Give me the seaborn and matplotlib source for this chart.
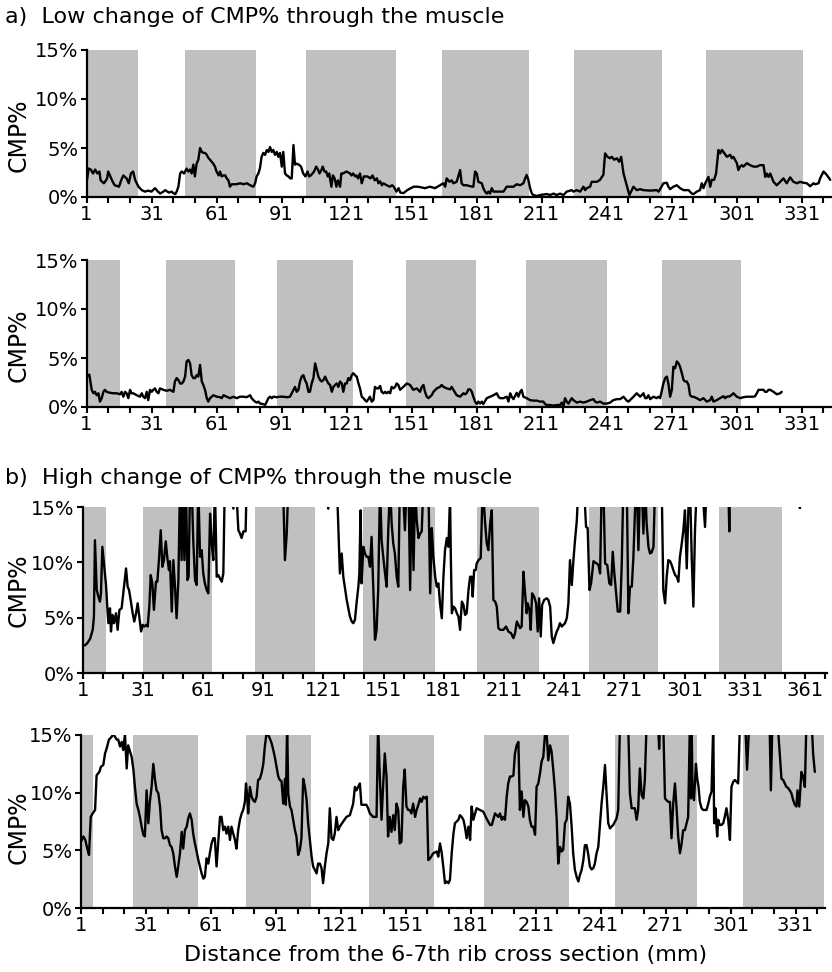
import matplotlib
matplotlib.use("Agg")
import matplotlib.pyplot as plt
import seaborn as sns
import pandas as pd
from matplotlib.ticker import FixedLocator, FuncFormatter

# ---------------- data (x = slice index, y = CMP %) ----------------
low1 = [(1,1.4),(2,2.9),(3,2.8),(4,2.4),(5,2.8),(6,2.4),(7,2.6),(7.5,1.7),(8,1.6),(9,1.4),(10,1.7),(10.5,1.9),(11,2.6),(12,2.1),(13,1.6),(14,1.2),(16,1.05),(17,1.7),(18,2.2),(19.5,1.9),(20.5,1.4),(21.5,2.4),(22.5,2.6),(23.5,1.7),(25,1.05),(26.5,0.7),(28,0.55),(29.5,0.65),(31,0.55),(32.6,0.9),(34,0.55),(35,0.35),(36.5,0.55),(37.3,0.7),(39,0.45),(40.3,0.55),(41,0.4),(42,0.3),(42.6,0.55),(43.4,1.05),(44.2,2.4),(45,2.6),(46,2.4),(47.2,2.9),(48,2.6),(48.8,2.8),(49.5,2.4),(50.3,3.3),(51,2.1),(51.8,3.4),(52.6,3.8),(53.4,5.0),(54.2,4.6),(55,4.5),(55.7,4.5),(56.5,4.3),(57.2,4.0),(58,3.8),(59.5,3.4),(60.3,3.1),(61,2.6),(62,2.2),(62.6,2.6),(63.4,2.1),(64.2,2.2),(65,2.2),(65.7,1.9),(66.5,1.7),(67.2,1.05),(68,1.3),(70,1.3),(72,1.4),(73.4,1.3),(75,1.4),(76.5,1.2),(78,1.05),(78.8,1.4),(79.5,2.1),(80.3,2.4),(81,2.9),(81.8,4.1),(82.6,4.5),(83.4,4.3),(84.2,4.8),(85,4.6),(85.7,5.1),(86.5,4.6),(87.2,4.8),(88,4.3),(88.8,4.6),(89.5,4.1),(90.3,4.5),(91.1,3.1),(91.8,4.6),(92.6,2.4),(93.4,2.2),(94.2,2.1),(95,1.9),(95.7,1.9),(96.5,5.3),(97.2,3.3),(98,3.4),(99,3.3),(100,3.1),(101,2.4),(102,2.1),(103,2.6),(103.7,2.1),(104.5,2.2),(105.3,2.4),(106,2.6),(107,3.1),(107.8,2.8),(108.5,2.4),(109.5,2.8),(110,3.1),(110.8,2.6),(111.6,2.6),(112.3,2.1),(113,2.4),(114,1.05),(114.7,2.2),(115.5,1.9),(116.3,1.05),(117,1.7),(118,1.05),(118.6,2.4),(119.3,2.4),(121,2.6),(122.6,2.4),(123.3,2.2),(124,2.4),(125,2.1),(125.6,2.2),(126.3,1.9),(127.2,2.4),(128,1.4),(129,2.1),(130.6,2.1),(132,1.9),(133,2.2),(134,1.7),(135,1.9),(135.7,1.4),(136.5,1.6),(137.3,1.2),(138,1.4),(139.5,1.2),(141,1.05),(142,1.2),(142.8,1.05),(144,0.55),(145,0.9),(145.8,0.45),(147.3,0.4),(149,0.7),(150.6,0.9),(152,1.05),(154,1.05),
        (157.2,0.9),(159.5,1.05),(161.8,0.9),(164.1,1.2),(165.7,1.4),(166.5,1.05),(167.2,1.9),(168.5,1.55),(169.5,1.7),(170.3,1.4),(171.8,1.55),(173.4,2.75),(174.1,1.4),(174.9,1.2),(176.5,1.2),(178,1.1),(179.5,1.05),(180.3,2.6),(181.1,2.4),(181.8,1.55),(183.4,1.4),(184.1,0.9),(184.9,0.55),(185.7,0.35),(186.5,0.55),(187.2,0.35),(188,0.9),(188.8,0.55),(190.3,0.55),(193.4,0.55),(194.9,1.05),(198,1.05),(199.5,1.3),(201.1,1.2),(202.6,1.4),(203.4,1.9),(204.1,2.25),(204.9,1.75),(205.7,0.9),(206.5,0.35),(207.2,0.2),(208.8,0.1),(210.3,0.2),(213.4,0.3),(214.9,0.2),(216.5,0.35),(218,0.2),(219.5,0.35),(221.1,0.2),(222.6,0.55),(224.9,0.7),(225.7,0.55),(227.2,0.7),(228.8,0.55),(230.3,1.05),(231.1,0.7),(231.8,0.9),(233.4,1.05),(234.1,1.55),(236.5,1.55),(238,1.75),(238.8,2.05),(239.5,2.25),(240.3,4.45),(241.4,4.1),(242.6,3.95),(243.4,4.1),(244.5,3.8),(245.7,3.95),(246.8,3.6),(247.7,4.1),(248.8,2.4),(250.3,1.2),(251.5,0.2),(252.6,0.7),(253.4,1.05),(254.9,0.7),(256.5,0.8),(258,0.7),(261.1,0.65),(264.1,0.7),(264.9,0.55),(265.7,0.8),(267.2,1.4),(268.8,1.45),(269.5,1.05),(270.3,0.8),(271.8,1.05),(273.4,1.2),(274.9,0.9),(276.5,0.7),(278.8,0.7),(280.3,0.35),(281.1,0.3),(282.6,0.55),(284.1,0.7),(284.9,1.4),(285.7,0.9),(286.5,1.4),(288,2.05),(288.8,1.05),(289.5,1.75),(290.6,1.75),(291.5,2.4),(292.6,4.8),(293.4,4.45),(294.2,4.8),(294.9,4.6),(296.5,4.1),(298,4.3),(298.8,3.95),(299.5,4.1),(301.1,3.45),(301.8,2.75),(302.6,3.1),(303.4,3.25),(304.1,3.1),(305.7,3.45),(307.2,3.25),(308.8,3.1),(310.3,3.1),(311.8,3.25),(313.4,3.25),(314.2,2.05),(314.9,2.4),(315.7,2.05),(316.5,2.4),(318,1.55),(319.5,1.2),(321.1,1.55),(322.6,1.9),(324.1,1.4),(325.7,2.0),(327.2,1.55),(328.8,1.4),(330.3,1.55),(331.8,1.45),(333.4,1.4),(334.9,1.1),(336.5,1.4),(337.2,1.3),(338.8,1.4),(339.5,1.9),(341.1,2.6),(342.6,2.25),(344.2,1.75)]

low2 = [(1,3.3),(1.8,3.2),(2.3,3.3),(3.4,1.75),(4.2,1.4),(4.9,1.55),(5.7,1.2),(6.5,1.4),(7.2,0.55),(8,0.9),(8.8,1.55),(9.5,1.75),(10.3,1.55),(11.8,1.45),(13.4,1.4),(14.9,1.4),(16.5,1.3),(17.2,1.55),(18,1.05),(18.8,1.55),(19.5,1.4),(20.3,0.9),(21.1,1.75),(21.8,1.4),(22.6,1.4),(24.2,1.2),(25.7,1.05),(26.5,1.4),(27.2,1.05),(28,0.9),(28.8,1.55),(29.5,0.7),(30.3,1.75),(31.1,1.55),(31.8,1.75),(32.6,1.9),(33.4,1.55),(34.2,1.4),(34.9,1.9),(36.5,1.75),(38,1.65),(39.5,1.75),(41.1,1.55),(41.8,2.6),(42.6,2.95),(43.4,2.75),(44.2,2.4),(45,2.4),(45.7,2.6),(46.5,3.1),(47.2,4.65),(48,4.8),(48.8,4.45),(49.5,3.25),(50.3,2.95),(51.1,2.95),(51.8,3.25),(52.6,3.1),(53.4,4.3),(54.2,2.6),(54.9,2.25),(55.7,1.75),(56.5,0.9),(57.2,0.55),(58,0.9),(59.5,1.2),(61.1,1.05),(62.6,1.0),(63.4,0.9),(64.2,1.2),(65.7,1.05),(67.2,0.9),(68.8,1.05),(70.3,0.9),(71.8,1.05),(73.4,1.05),(74.9,1.0),(76.5,1.2),(77.2,0.9),(78,0.7),(78.8,0.55),(79.5,0.45),(80.3,0.55),(81.1,0.35),(82.6,0.3),(83.4,0.2),(84.2,0.55),(84.9,0.9),(85.7,1.05),(86.5,0.9),(87.2,1.05),(88.8,1.0),(90.3,1.05),(91.8,1.05),(93.4,1.0),(94.9,1.05),(96.5,1.75),(97.2,2.05),(98,1.55),(98.8,1.75),(99.5,2.6),(100.3,3.1),(101.1,3.25),(101.8,2.75),(102.6,2.4),(103.4,1.55),(104.1,1.55),(104.9,2.4),(105.7,2.95),(106.5,4.45),(107.2,3.8),(108,3.1),(108.8,2.75),(109.5,2.6),(110.3,2.75),(111.1,3.1),(111.8,2.75),(112.6,2.4),(113.4,2.25),(114.2,1.55),(114.9,2.05),(115.7,2.25),(116.5,2.4),(117.2,2.05),(118,2.6),(118.8,2.4),(119.5,1.55),(120.3,2.4),(121.1,2.4),(121.8,2.95),(122.6,2.75),(123.4,3.25),(124.1,3.45),(124.9,3.25),(125.7,3.1),(126.5,2.4),(127.2,1.9),(128,1.05),(128.8,0.9),(129.5,0.7),(130.3,0.55),(131.8,1.05),(132.6,0.55),(133.4,0.7),(134.1,2.05),(134.9,1.9),(135.7,1.9),(136.5,2.15),(137.2,1.55),(138,1.4),(138.8,1.55),(139.5,1.4),(140.3,1.55),(141.1,1.4),(141.8,2.05),(142.6,1.9),(143.4,2.05),(144.1,2.4),(144.9,2.25),(145.7,1.75),(147.2,2.05),(148.8,2.4),(150.3,2.25),(151.8,1.75),(153.4,1.9),(154.9,1.55),
        (155.7,2.05),(156.5,2.25),(157.2,1.55),(158,1.05),(158.8,0.9),(159.5,1.05),(160.3,1.2),(161.1,1.55),(162.6,1.9),(164.1,2.05),(164.9,2.25),(165.7,2.05),(167.2,1.9),(168.8,1.8),(169.5,2.05),(170.3,1.75),(171.8,1.2),(173.4,1.05),(174.9,1.4),(175.7,1.3),(176.5,1.45),(177.2,1.8),(178,1.8),(178.8,1.55),(179.5,1.05),(180.3,0.55),(181.1,0.3),(181.8,0.55),(182.6,0.35),(183.4,0.55),(184.1,0.3),(185.7,0.9),(187.2,1.05),(188.8,1.2),(190.3,1.4),(191.1,1.05),(191.8,0.9),(193.4,0.9),(194.9,1.05),(195.7,0.55),(196.5,1.4),(197.2,1.05),(198,0.8),(199.5,1.45),(200.3,1.05),(201.1,1.55),(201.8,1.75),(202.6,1.05),(204.1,0.9),(205.7,0.7),(207.2,0.65),(208.8,0.65),(210.3,0.55),(211.8,0.55),(212.6,0.3),(213.4,0.2),(214.9,0.2),(216.5,0.15),(218,0.2),(219.5,0.2),(220.3,0.45),(221.1,0.05),(221.8,0.9),(222.6,0.55),(223.4,0.35),(224.9,0.9),(225.7,0.7),(227.2,0.45),(228.8,0.55),(230.3,0.45),(231.8,0.55),(233.4,0.7),(234.9,0.8),(235.7,0.55),(236.5,0.45),(238,0.55),(239.5,0.35),(241.1,0.35),(242.6,0.45),(244.1,0.7),(245.7,0.8),(247.2,0.8),(248.8,1.05),(250.3,0.65),(251.1,0.55),(251.8,0.7),(253.4,1.05),(254.9,1.4),(256.5,1.05),(258,1.4),(258.8,0.9),(259.5,0.9),(260.3,1.2),(261.1,0.8),(262.6,1.05),(264.1,0.9),(264.9,1.05),(265.7,0.9),(267.2,2.4),(268,2.95),(268.8,3.1),(269.5,2.4),(270.3,1.05),(271.1,1.75),(271.8,4.1),(272.6,3.95),(273.4,4.65),(274.2,4.45),(274.9,4.1),(275.7,3.45),(276.5,2.75),(277.2,2.6),(278,2.6),(278.8,2.25),(279.5,1.2),(280.3,1.05),(281.1,1.05),(282.6,0.9),(284.1,0.7),(285.7,0.9),(287.2,0.55),(288.8,0.7),(289.5,1.05),(290.3,0.55),(291.8,0.7),(293.4,0.9),(294.9,1.1),(295.7,0.9),(296.5,1.05),(298,1.1),(299.5,1.4),(301.1,1.05),(302.6,0.9),(304.1,1.0),(305.7,1.05),(307.2,1.05),(308.8,1.05),(309.5,1.1),(310.3,1.4),(311.1,1.75),(311.8,1.75),(313.4,1.75),(314.1,1.55),(314.9,1.55),(315.7,1.75),(316.5,1.75),(318,1.55),(319.5,1.3),(321.1,1.4),(321.8,1.55)]

high1 = [(1,2.5),(2.2,2.5),(3.3,2.7),(4.7,3.1),(6,3.9),(6.6,5.1),(7.1,12.0),(8,7.5),(8.8,6.9),(9.6,6.45),(10.1,7.2),(10.8,11.4),(11.6,9.9),(12.6,8.0),(13.3,5.85),(13.8,4.5),(14.6,5.85),(15.1,3.75),(15.8,5.25),(16.6,4.5),(17.6,5.4),(18.4,3.9),(19.3,5.7),(20.4,5.85),(21.6,7.8),(22.6,9.45),(23.4,7.8),(24.1,7.5),(24.9,6.6),(25.9,5.4),(26.7,4.65),(27.6,5.4),(28.4,6.3),(29.2,5.1),(30.1,3.75),(30.9,4.35),(31.7,4.2),(32.6,4.35),(33.4,4.2),(34.2,6.0),(34.9,8.85),(35.7,8.1),(36.5,5.7),(37.5,8.25),(38.2,8.25),(39,10.2),(39.9,12.9),(40.7,9.6),(41.5,10.2),(42.4,11.9),(43.2,10.4),(44,9.3),(44.5,10.1),(45.4,5.55),(46.2,10.2),(47,7.8),(47.8,4.95),(48.7,8.4),(49.5,17),(50.3,10.2),(50.8,17),(51.7,10.2),(52.5,17),(53.2,8.4),(53.8,8.7),(54.5,17),(55.3,17),(56.1,12.0),(57,8.4),(57.8,7.95),(58.6,17),(59.5,10.5),(60.3,11.1),(61.1,9.0),(61.9,8.1),(62.8,7.5),(63.6,7.2),(64.5,14.4),(65.3,11.7),(66.1,10.2),(66.9,17),(67.8,8.7),(68.6,8.85),(69.4,8.55),(70.3,8.25),(71.1,9.0),(71.9,18),(74,20),(76.1,14.85),(77,17),(77.7,16),(78.6,12.9),(79.4,12.6),(80.2,12.2),(81.1,12.8),(82.2,12.8),(82.7,17),(88,22),(95,20),(100,17),(101,16),(101.8,10.2),(102.7,12.6),(103.5,17),(110,22),(118,20),(123.4,14.85),(125,19),(127.9,16),(129.2,9.0),(130.1,10.8),(130.9,8.7),(132.6,6.6),(134.2,5.1),(135.1,4.65),(135.9,4.5),(136.7,4.8),(137.5,6.3),(138.4,7.8),(138.9,9.0),(139.5,14.7),(140,8.1),(140.9,11.4),(141.7,10.8),(142.5,10.5),(143.4,10.5),(144.2,9.6),(145,12.3),(145.9,7.5),(146.7,3.0),(147.5,3.9),(148.3,7.5),(149.2,17),(150,12.0),(150.8,10.5),(151.7,9.0),(152.5,7.8),(153.3,12.9),(154.2,17),(155,13.5),(155.8,11.7),(156.6,10.8),(157.5,8.7),(158.3,7.8),(159.1,17),(160.5,17),(161.6,12.9),(162.5,17),(163.4,17),
         (164.2,7.5),(165,17),(165.9,9.3),(166.7,17),(167.5,13.8),(168.4,12.2),(169.2,12.6),(170,12.8),(170.8,17),(173.3,17),(174.2,7.2),(175,13.1),(175.8,10.5),(176.7,8.7),(177.5,7.8),(178.3,8.1),(179.1,6.3),(180,4.95),(180.8,8.7),(181.6,11.1),(182.5,12.2),(183.3,11.4),(184.1,16),(184.5,10.5),(185,5.4),(185.8,6.0),(186.6,5.85),(187.5,5.4),(188.3,5.1),(189.1,3.9),(190,6.45),(190.8,6.15),(191.6,5.25),(192.4,5.4),(193.3,7.5),(194.1,8.7),(194.9,8.7),(195.4,6.9),(196.1,9.3),(196.9,9.3),(197.4,9.9),(198.3,10.2),(199.4,10.4),(200.4,17),(201.6,13.5),(202.4,11.7),(203.2,11.1),(204.1,13.5),(204.9,14.7),(205.7,6.6),(206.6,6.45),(207.4,6.0),(208.2,4.05),(209.1,3.9),(210.7,3.9),(212,4.2),(213.2,3.75),(214.5,3.6),(215.7,3.15),(216.5,3.6),(217.4,4.65),(218.2,4.35),(219,4.05),(219.8,4.2),(220.7,9.15),(221.5,7.2),(222.3,5.4),(222.8,6.3),(223.7,5.7),(224.3,3.9),(225,7.2),(226,6.9),(227,6.3),(227.8,3.75),(228.5,6.75),(229.3,3.3),(230,6.15),(231,6.6),(232.3,6.75),(233.1,6.6),(234,6.0),(234.8,3.3),(235.6,2.7),(236.5,3.3),(237.3,3.75),(238.1,4.05),(238.9,4.5),(239.8,4.2),(240.6,4.35),(241.4,4.5),(242.3,4.95),(243.1,6.3),(243.9,10.2),(244.8,7.95),(245.6,10.2),(246.4,12.0),(247.3,13.8),(248.1,17),(250,20),(251.9,13.2),(252.7,13.1),(253.6,7.5),(254.4,8.1),(255.6,10.1),(257.2,9.9),(258.1,9.75),(258.9,9.0),(259.7,17),(260.5,17),(261.4,9.9),(262.5,9.75),(263.5,8.1),(264.4,7.95),(265.2,10.95),(266,9.0),(266.9,7.2),(267.7,5.55),(268.9,5.55),(269.7,9.9),(270.5,17),(272.2,17),(273,5.4),(273.8,7.8),(274.7,7.8),(275.5,10.5),(276.3,14.7),(277.2,17),(278,11.1),(278.8,17),(279.6,17),(280.5,12.6),(281.3,17),(282.1,13.5),(283,11.4),(283.8,10.8),(284.6,10.9),(285.5,11.4),(286.3,17),(288,20),(289.6,17),(290.4,7.5),(291.3,6.3),(292.1,8.7),(292.9,10.2),(293.8,10.1),(294.6,9.75),(295.4,9.3),(296.3,8.85),(297.1,8.7),(297.9,8.25),(298.7,10.5),(299.6,11.7),(300.4,12.9),(301.2,14.7),(302.1,9.45),(302.9,14.7),(303.7,17),(304.6,10.2),(305.4,6.0),(306.2,12.9),(307.1,17),(309,19),(311.2,13.2),(312,17),(316,22),(322.8,17),(323.3,12.8),(323.7,17),(330,22),(345,21),(358.5,14.9),(360,18)]

high2 = [(1,5.75),(2.1,6.2),(3,5.9),(3.9,5.15),(4.7,4.6),(5.5,7.9),(6.4,8.2),(7.5,8.5),(8.2,11.5),(9.5,11.8),(10.2,12.25),(11.3,12.4),(12.1,13.4),(12.8,13.8),(13.9,14.6),(15.2,14.85),(15.9,15.1),(16.7,14.85),(17.5,14.6),(18.2,14.6),(19,14.0),(19.8,14.4),(20.5,13.7),(21.3,15.1),(22.1,12.1),(22.8,14.1),(23.6,13.6),(24.4,13.1),(25.2,12.0),(25.9,10.5),(26.7,9.05),(27.5,8.5),(28.2,7.9),(29,7.05),(29.8,6.35),(30.5,6.2),(31.3,10.2),(32.1,7.35),(32.8,9.2),(33.6,10.5),(34.4,12.5),(35.2,11.1),(35.9,10.2),(36.7,9.95),(37.5,8.8),(38.2,6.75),(39,6.05),(39.8,6.05),(40.5,6.2),(41.3,6.05),(42.1,5.45),(42.8,5.3),(43.6,4.75),(44.4,3.6),(45.2,2.7),(45.9,3.6),(46.7,4.75),(47.5,6.6),(48.2,5.15),(49,6.75),(49.8,7.05),(50.5,7.75),(51.3,8.2),(52.1,7.65),(52.8,6.45),(53.6,5.6),(54.4,4.9),(55.2,4.15),(55.9,3.6),(56.7,3.0),(57.5,2.55),(58.2,2.7),(59,4.3),(59.8,3.85),(60.5,4.75),(61.3,5.6),(62.1,6.05),(62.8,6.05),(63.6,3.6),(64.4,5.75),(65.2,7.9),(65.9,7.9),(66.7,6.75),(67.5,7.05),(68.2,6.45),(69,7.05),(69.8,5.9),(70.5,7.05),(71.3,6.45),(72.1,5.9),(72.8,5.15),(73.6,6.75),(74.4,7.65),(75.2,8.2),(75.9,8.5),(76.7,9.2),(77.2,10.8),(77.8,9.65),(78.2,8.2),(79,10.5),(79.8,9.65),(80.5,9.35),(81.3,9.2),(82.1,9.65),(82.8,11.1),(83.6,11.2),(84.4,11.7),(85.2,12.5),(85.9,14.0),(86.7,15.2),(87.5,15.0),(88.2,14.7),(89,14.3),(89.8,13.7),(90.5,13.1),(91.3,12.25),(92.1,11.4),(92.8,11.1),(93.6,11.0),(94.4,9.05),(95.2,11.2),(95.6,8.95),(96.2,16),(96.7,9.95),(97.5,8.8),(98.2,8.5),(99,7.65),(99.8,6.75),(100.5,6.2),(101.3,4.6),(102.1,5.05),(102.8,6.05),(103.6,11.2),(104.4,10.5),(105.2,9.35),(105.9,7.35),(106.7,5.9),(107.5,4.45),(108.2,3.6),(109,3.3),(109.8,3.0),(110.5,3.85),(111.3,3.85),(112.1,3.45),(112.8,2.15),(113.6,3.6),(114.4,4.75),(115.2,5.6),(115.9,8.65),(116.7,6.05),(117.5,5.9),(118.2,6.45),(119,7.9),(119.8,6.75),(120.5,7.05),(122.1,7.5),(123.6,7.9),(125.2,8.05),(126.7,9.05),(127.5,10.5),(128.2,10.2),(129,10.5),(129.8,10.8),(130.5,8.95),(131.3,8.95),(132.8,8.95),(133.6,8.65),(134.4,8.2),(135.2,8.05),(135.9,7.9),(137.5,7.9),(138.2,16),(139,11.4),(139.8,7.65),(140.5,10.5),(141.3,13.4),(142.1,11.4),(142.8,6.2),(143.6,7.9),(144.4,6.6),(145.2,8.05),(145.9,6.75),(146.7,9.05),(147.5,8.5),(148.2,5.6),(149,5.75),(149.8,10.5),(150.5,12.0),(151.3,8.8),(152.1,8.5),(152.8,8.5),(153.6,8.2),(154.4,9.05),(155.3,7.9),(156,8.5),(156.8,8.95),(157.6,9.5),(158.3,9.2),(159.1,9.65),(159.9,9.5),(160.7,9.65),(161.4,4.15),(162.2,4.3),(163.7,4.75),(165.3,4.9),(166,4.45),(166.8,5.6),(167.6,4.75),(168.3,3.6),(169.1,2.15),(169.9,2.3),(170.7,2.15),(171.4,2.45),(172.2,4.75),(173,6.45),(173.7,7.35),(174.5,7.5),(175.3,7.65),(176,8.05),(176.8,7.9),(177.6,7.65),(178.3,7.05),(179.1,6.05),(179.9,7.05),(180.7,5.9),(181.4,8.8),(182.2,7.65),(183,8.2),(183.7,8.65),(185.3,8.5),(186.8,8.35),(188.3,7.75),(189.9,7.2),(190.7,7.2),(191.4,7.65),(192.2,8.2),(193,8.05),(193.7,7.9),(194.5,8.2),(195.3,7.65),(196,7.9),(196.8,7.65),(197.6,9.65),(198.3,10.8),(199.1,11.4),(199.9,11.4),(200.7,11.5),(201.4,13.4),(202.2,14.1),(203,14.4),(203.7,8.5),(204.5,10.1),(205.3,7.9),(206,9.35),(206.8,9.2),(207.6,8.8),(208.3,7.65),(209.1,7.05),(209.9,7.05),(210.7,6.35),(211.4,10.5),(212.2,10.8),(213,11.7),(213.7,12.7),(214.5,13.1),(215.3,15.1),(216,15.2),(216.8,12.8),(217.6,14.1),(218.3,13.6),(219.1,12.0),(219.9,10.2),(220.7,7.65),(221.4,3.85),(222.2,5.3),(223,4.9),(223.7,5.05),(224.5,7.35),(225.3,7.65),(226,9.65),(226.8,9.05),(227.6,7.05),(228.3,4.75),(229.1,3.3),(229.9,2.7),(230.7,2.3),(231.4,2.85),(232.2,3.3),(233,4.15),(233.7,5.45),(234.5,5.45),(235.3,4.6),(236,3.6),(236.8,3.35),(237.6,3.45),(238.3,3.85),(239.1,4.75),(239.9,5.3),(240.7,7.35),(241.4,9.05),(242.2,10.5),(243,12.4),(243.7,9.95),(244.5,7.35),(245.3,6.9),(246,7.05),(246.8,7.2),(247.6,7.5),(248.3,7.75),(249.1,8.5),(249.9,16),(251.5,20),(253.7,16),(254.5,9.95),(255.3,8.65),(256,8.65),(256.8,8.65),(257.6,7.65),(258.3,8.5),(259.1,12.1),(259.9,9.8),(260.7,9.5),(261.4,11.1),(262.2,16),(265,20),(267.5,16),(268,13.8),(268.5,16),(269.9,16),(270.7,9.5),(271.4,9.35),(272.2,9.2),(273,9.2),(273.7,6.05),(274.5,9.05),(275.3,10.8),(276,8.8),(276.8,6.2),(277.6,4.75),(278.3,5.45),(279.1,6.75),(279.9,6.75),(280.7,7.35),(281.4,7.9),(282.2,16),(282.7,9.5),(283,16),(283.4,10.2),(284.1,9.35),(285,12.5),(285.6,11.2),(286.2,10.5),(286.8,9.2),(287.6,8.65),(288.3,8.5),(289.9,8.5),(290.7,9.05),(291.4,9.65),(292.2,10.1),(293,16),(293.4,7.35),(294,8.65),(294.8,6.2),(295.3,7.65),(296,7.2),(296.8,7.2),(297.6,7.35),(298.3,7.9),(299.1,8.65),(299.9,7.65),(300.7,5.9),(301.4,10.5),(302.2,10.95),(303,11.1),(304.5,10.8),(305.3,16),(307,20),(308.6,12.0),(309.6,16),(314,21),(319,16),(319.6,10.2),(320.3,16),(322,18),(324.5,11.2),(325.3,11.1),(326,10.8),(326.8,10.5),(327.6,10.4),(328.3,10.2),(329.1,9.95),(329.9,9.35),(330.7,8.95),(331.4,8.8),(331.9,10.2),(332.7,8.8),(333.7,11.8),(334.5,11.4),(335.3,10.5),(336,16),(338,18),(339.1,13.4),(339.9,11.8)]

# shaded regions (start, end) along the slice axis
bands_low1 = [(1, 24.6), (46.5, 79.3), (102.5, 143.8), (165, 205), (226, 266.5), (287, 331.6)]
bands_low2 = [(1, 16.3), (37.7, 69.4), (88.7, 124.2), (148.4, 180.8), (204, 241), (266.6, 303.2)]
bands_high1 = [(1, 12.6), (31.2, 65.6), (86.9, 116.8), (140.9, 176.6), (197.3, 228.6), (253.2, 287.9), (318.3, 349.7)]
bands_high2 = [(1, 6.5), (24.8, 55), (77.2, 107.2), (134, 164), (187.3, 226.4), (247.7, 285.7), (306.9, 344.3)]

y_ticks = [0, 5, 10, 15]
x_label_step = 30
x_tick_step = 10

title_a = "a)  Low change of CMP% through the muscle"
title_b = "b)  High change of CMP% through the muscle"
x_title = "Distance from the 6-7th rib cross section (mm)"
y_title = "CMP%"

# ---------------- drawing ----------------
sns.set_theme(style="white")
plt.rcParams["font.family"] = ["DejaVu Sans"]

W, H = 832, 972
fig = plt.figure(figsize=(W / 100, H / 100), dpi=100)

# layout in pixels: left, right, top, bottom, x-max, ylabel centre y
panels = [
    (low1, bands_low1, (86.5, 832, 50, 197), 345.0, 135),
    (low2, bands_low2, (86.5, 832, 260, 407), 345.0, 345),
    (high1, bands_high1, (82.7, 827, 507, 673), 372.0, 590),
    (high2, bands_high2, (81, 825, 735, 908), 344.6, 827),
]

for series, bands, (l, r, t, b), xmax, ylab_y in panels:
    ax = fig.add_axes([l / W, 1 - b / H, (r - l) / W, (b - t) / H])
    starts = [s for s, e in bands]
    widths = [e - s for s, e in bands]
    ax.bar(starts, [15] * len(bands), width=widths, align="edge",
           color="#c0c0c0", linewidth=0, zorder=1)
    df = pd.DataFrame(series, columns=["slice", "cmp"])
    sns.lineplot(data=df, x="slice", y="cmp", ax=ax, color="black",
                 linewidth=1.7, estimator=None, sort=False, zorder=3)
    ax.set_xlim(1, xmax)
    ax.set_ylim(0, 15)
    ax.set_xlabel("")
    ax.set_ylabel("")
    ax.yaxis.set_major_locator(FixedLocator(y_ticks))
    ax.yaxis.set_major_formatter(FuncFormatter(lambda v, p: f"{int(v)}%"))
    xt = list(range(1, int(xmax) + 1, x_tick_step))
    ax.xaxis.set_major_locator(FixedLocator(xt))
    ax.xaxis.set_major_formatter(FuncFormatter(
        lambda v, p: f"{int(round(v))}" if (int(round(v)) - 1) % x_label_step == 0 else ""))
    for s in ["top", "right"]:
        ax.spines[s].set_visible(False)
    for s in ["left", "bottom"]:
        ax.spines[s].set_color("black")
        ax.spines[s].set_linewidth(1.6)
        ax.spines[s].set_zorder(5)
    ax.tick_params(axis="both", direction="out", length=4, width=1.5,
                   color="black", labelsize=14, labelcolor="black", pad=2,
                   bottom=True, left=True)
    ax.set_facecolor("white")
    fig.text(19 / W, 1 - ylab_y / H, y_title, rotation=90, ha="center",
             va="center", fontsize=17, color="black")

fig.text(5 / W, 1 - 17 / H, title_a, ha="left", va="center", fontsize=16, color="black")
fig.text(5 / W, 1 - 478 / H, title_b, ha="left", va="center", fontsize=16, color="black")
fig.text(446 / W, 1 - 955 / H, x_title, ha="center", va="center", fontsize=16, color="black")

fig.savefig("out.png", dpi=100)
